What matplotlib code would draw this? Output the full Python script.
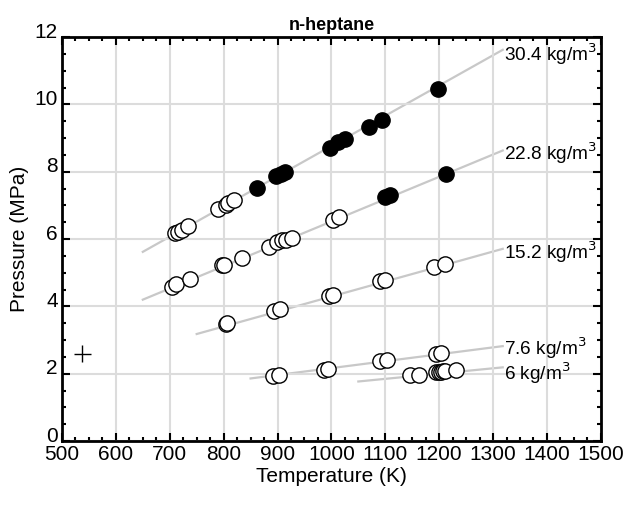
import matplotlib
matplotlib.use("Agg")
import matplotlib.pyplot as plt
import matplotlib.transforms as mtransforms
from matplotlib.ticker import MultipleLocator

plt.rcParams['font.family'] = ['Liberation Sans', 'DejaVu Sans']

# ---- data ----
title = "n-heptane"
densities = ["30.4", "22.8", "15.2", "7.6", "6"]

d30_open_T = [710, 716, 722, 733, 790, 805, 809, 820]
d30_open_P = [6.18, 6.22, 6.28, 6.38, 6.89, 7.01, 7.06, 7.16]
d30_fill_T = [862, 898, 907, 913, 998, 1013, 1026, 1070, 1094, 1198]
d30_fill_P = [7.51, 7.86, 7.93, 7.98, 8.70, 8.88, 8.96, 9.32, 9.54, 10.47]

d22_open_T = [705, 712, 737, 797, 800, 835, 885, 899, 908, 915, 927, 1003, 1015]
d22_open_P = [4.59, 4.66, 4.80, 5.22, 5.24, 5.44, 5.77, 5.90, 5.96, 5.98, 6.03, 6.58, 6.65]
d22_fill_T = [1100, 1108, 1212]
d22_fill_P = [7.25, 7.30, 7.94]

d15_open_T = [805, 807, 893, 905, 995, 1003, 1090, 1100, 1190, 1210]
d15_open_P = [3.48, 3.50, 3.85, 3.91, 4.30, 4.35, 4.75, 4.78, 5.18, 5.26]

d7_open_T = [891, 903, 987, 993, 1090, 1103, 1195, 1203]
d7_open_P = [1.93, 1.95, 2.12, 2.14, 2.37, 2.41, 2.60, 2.62]

d6_open_T = [1145, 1162, 1195, 1200, 1203, 1208, 1211, 1231]
d6_open_P = [1.95, 1.97, 2.04, 2.05, 2.06, 2.07, 2.07, 2.10]

fit_T0 = [650, 650, 750, 850, 1050]
fit_T1 = [1318, 1318, 1318, 1318, 1318]
fit_P0 = [5.62, 4.20, 3.18, 1.86, 1.77]
fit_P1 = [11.62, 8.63, 5.71, 2.82, 2.19]
label_P = [11.50, 8.55, 5.60, 2.76, 2.02]

err_T, err_P = 538, 2.6
err_dT, err_dP = 15, 0.25

# ---- figure ----
fig = plt.figure(figsize=(6.28, 5.07), dpi=100)
ax = fig.add_axes([0.0987, 0.130, 0.858, 0.797])

ax.grid(True, which='major', color='#dcdcdc', linewidth=1.5, zorder=0)

for i, d in enumerate(densities):
    ax.plot([fit_T0[i], fit_T1[i]], [fit_P0[i], fit_P1[i]], color='#c8c8c8',
            linewidth=1.6, zorder=1)
    ax.text(fit_T1[i] + 3, label_P[i], f"{d} kg/m$^3$", fontsize=13.7,
            ha='left', va='center', zorder=5)

ms = 11
open_kw = dict(linestyle='none', marker='o', markersize=ms, markerfacecolor='white',
               markeredgecolor='black', markeredgewidth=1.0, zorder=3)
fill_kw = dict(linestyle='none', marker='o', markersize=ms, markerfacecolor='black',
               markeredgecolor='black', markeredgewidth=1.0, zorder=3)

for T, P in [(d30_open_T, d30_open_P), (d22_open_T, d22_open_P),
             (d15_open_T, d15_open_P), (d7_open_T, d7_open_P), (d6_open_T, d6_open_P)]:
    for t, p in zip(T, P):
        ax.plot([t], [p], **open_kw)
for T, P in [(d30_fill_T, d30_fill_P), (d22_fill_T, d22_fill_P)]:
    ax.plot(T, P, **fill_kw)

ax.errorbar([err_T], [err_P], xerr=[err_dT], yerr=[err_dP], fmt='none',
            ecolor='black', elinewidth=1.0, capsize=0, zorder=4)

ax.set_xlim(500, 1500)
ax.set_ylim(0, 12)
ax.xaxis.set_major_locator(MultipleLocator(100))
ax.xaxis.set_minor_locator(MultipleLocator(25))
ax.yaxis.set_major_locator(MultipleLocator(2))
ax.yaxis.set_minor_locator(MultipleLocator(0.5))
ax.tick_params(which='both', direction='in', top=True, right=True, labelsize=15,
               width=1.5, pad=3)
ax.tick_params(which='major', length=6)
ax.tick_params(which='minor', length=3)
for s in ax.spines.values():
    s.set_linewidth(2.0)

# shift y tick labels slightly upward, as in the reference
offset = mtransforms.ScaledTranslation(0, 5 / 72, fig.dpi_scale_trans)
for lab in ax.get_yticklabels():
    lab.set_transform(lab.get_transform() + offset)

ax.set_xlabel("Temperature (K)", fontsize=15, labelpad=2)
ax.set_ylabel("Pressure (MPa)", fontsize=15, labelpad=4)
ax.set_title(title, fontsize=13, fontweight='bold', pad=5)

fig.savefig("out.png", dpi=100)
